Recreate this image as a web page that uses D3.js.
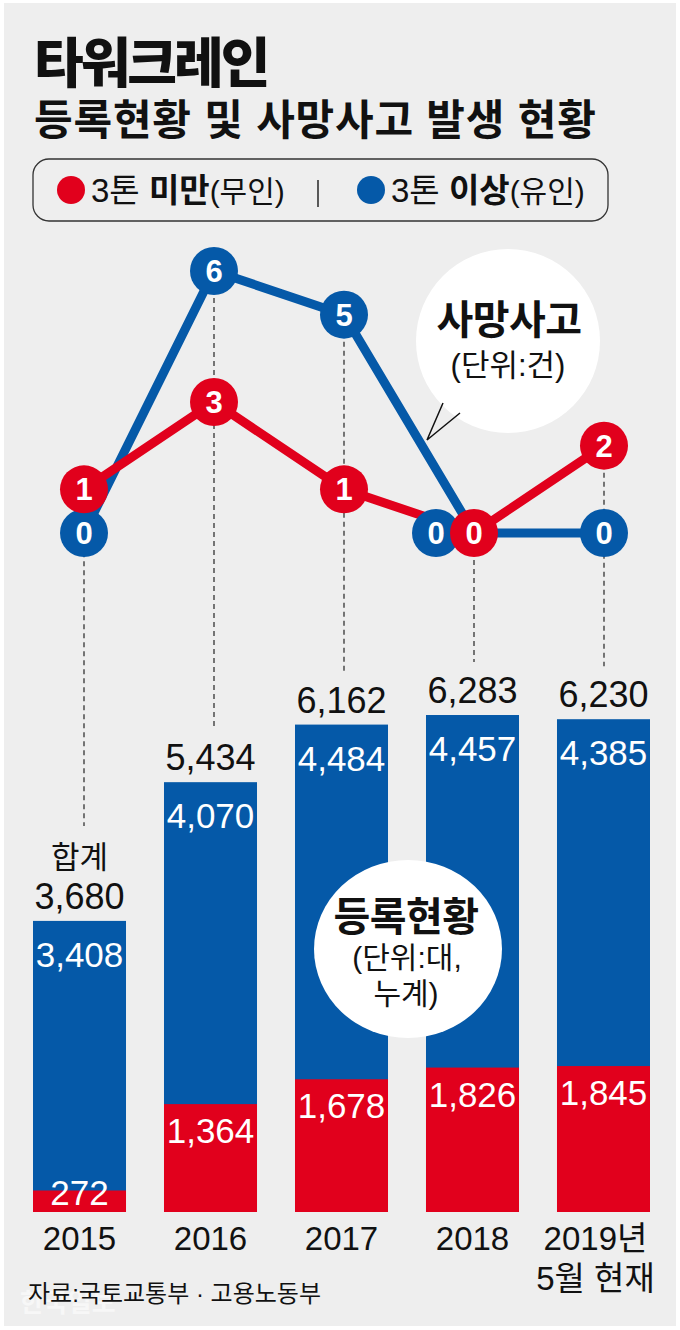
<!DOCTYPE html>
<html><head><meta charset="utf-8">
<script src="https://cdn.jsdelivr.net/npm/d3@7"></script>
<style>
html,body{margin:0;padding:0;background:#fff;}
svg{display:block;}
text{font-family:"Liberation Sans","Noto Sans CJK KR",Arial,sans-serif;}
.kr{font-family:"Noto Sans CJK KR","Liberation Sans",sans-serif;}
</style></head>
<body>
<svg id="c" width="680" height="1330"></svg>
<script>
const years = ["2015","2016","2017","2018","2019"];
const yearLabels = [["2015"],["2016"],["2017"],["2018"],["2019년","5월 현재"]];
const unmanned = [272, 1364, 1678, 1826, 1845];     // 3톤 미만(무인)
const manned = [3408, 4070, 4484, 4457, 4385];      // 3톤 이상(유인)
const totals = [3680, 5434, 6162, 6283, 6230];      // 합계
const deathsUnder3 = [1, 3, 1, 0, 2];               // 사망사고 3톤 미만
const deathsOver3 = [0, 6, 5, 0, 0];                // 사망사고 3톤 이상

const RED = "#e1001c", BLUE = "#0559a8", BG = "#eeeeee";
const svg = d3.select("#c");
const fmt = d3.format(",");

svg.append("rect").attr("x",4).attr("y",3).attr("width",672).attr("height",1323).attr("fill",BG);

// Title
svg.append("text").attr("x",34).attr("y",83)
  .attr("font-size",54).attr("font-weight",900).attr("letter-spacing",-3).attr("fill","#111")
  .text("타워크레인");
svg.append("text").attr("x",34).attr("y",135)
  .attr("font-size",42).attr("font-weight",700).attr("letter-spacing",0.8).attr("fill","#111")
  .text("등록현황 및 사망사고 발생 현황");

// Legend
svg.append("rect").attr("x",33).attr("y",159).attr("width",575).attr("height",62).attr("rx",16)
  .attr("fill",BG).attr("stroke","#333").attr("stroke-width",1.3);
const legend = [
  {c:RED, x:71, a:"3톤 ", b:"미만", d:"(무인)"},
  {c:BLUE, x:371, a:"3톤 ", b:"이상", d:"(유인)"}
];
legend.forEach(l=>{
  svg.append("circle").attr("cx",l.x).attr("cy",190).attr("r",14).attr("fill",l.c);
  const t = svg.append("text").attr("x",l.x+20).attr("y",202).attr("fill","#111");
  t.append("tspan").attr("font-size",33).text(l.a);
  t.append("tspan").attr("font-size",33).attr("font-weight",700).text(l.b);
  t.append("tspan").attr("font-size",30).text(l.d);
});
svg.append("line").attr("x1",318).attr("x2",318).attr("y1",180).attr("y2",207).attr("stroke","#333").attr("stroke-width",1.6);

// Bar scales
const xb = d3.scaleBand().domain(years).range([33,650]).paddingInner(0.29).paddingOuter(0);
const yb = d3.scaleLinear().domain([0,7000]).range([1212, 1212-7000*0.0791]);
const bw = xb.bandwidth();

// Line scales
const xp = d3.scalePoint().domain(years).range([84,604]);
const yp = d3.scaleLinear().domain([0,6]).range([533,271]);

// dashed guides
const dashEnd = years.map((y,i)=> i===0 ? 826 : yb(totals[i]) - 53);
const dashStart = years.map((y,i)=> yp(Math.max(deathsUnder3[i], deathsOver3[i])));
svg.append("g").selectAll("line").data(years).join("line")
  .attr("x1",d=>xp(d)).attr("x2",d=>xp(d))
  .attr("y1",(d,i)=>dashStart[i]).attr("y2",(d,i)=>dashEnd[i])
  .attr("stroke","#333").attr("stroke-width",1.3).attr("stroke-dasharray","5,4");

// Bars
const gb = svg.append("g");
gb.selectAll("rect.m").data(years).join("rect").attr("class","m")
  .attr("x",d=>xb(d)).attr("width",bw)
  .attr("y",(d,i)=>yb(totals[i])).attr("height",(d,i)=>yb(0)-yb(totals[i]))
  .attr("fill",BLUE);
gb.selectAll("rect.u").data(years).join("rect").attr("class","u")
  .attr("x",d=>xb(d)).attr("width",bw)
  .attr("y",(d,i)=>yb(unmanned[i])).attr("height",(d,i)=>yb(0)-yb(unmanned[i]))
  .attr("fill",RED);

// total labels
gb.selectAll("text.t").data(years).join("text").attr("class","t")
  .attr("x",d=>xb(d)+bw/2).attr("y",(d,i)=>yb(totals[i])-12)
  .attr("text-anchor","middle").attr("font-size",36).attr("fill","#111")
  .text((d,i)=>fmt(totals[i]));
svg.append("text").attr("x",xb("2015")+bw/2).attr("y",868).attr("text-anchor","middle")
  .attr("font-size",31).attr("fill","#111").text("합계");
// manned labels
gb.selectAll("text.mv").data(years).join("text").attr("class","mv")
  .attr("x",d=>xb(d)+bw/2).attr("y",(d,i)=>yb(totals[i])+46)
  .attr("text-anchor","middle").attr("font-size",35).attr("fill","#fff")
  .text((d,i)=>fmt(manned[i]));
// unmanned labels
gb.selectAll("text.uv").data(years).join("text").attr("class","uv")
  .attr("x",d=>xb(d)+bw/2).attr("y",(d,i)=>Math.min(yb(unmanned[i])+39, yb(0)-7))
  .attr("text-anchor","middle").attr("font-size",35).attr("fill","#fff")
  .text((d,i)=>fmt(unmanned[i]));
// year labels
yearLabels.forEach((lines,i)=>{
  lines.forEach((s,j)=>{
    svg.append("text").attr("x",xb(years[i])+bw/2 - (i===4?8:0)).attr("y",1250+j*40)
      .attr("text-anchor","middle").attr("font-size",33).attr("fill","#111").text(s);
  });
});

// 등록현황 bubble
svg.append("ellipse").attr("cx",408).attr("cy",949).attr("rx",94).attr("ry",89).attr("fill","#fff");
svg.append("text").attr("class","kr").attr("x",406).attr("y",931).attr("text-anchor","middle")
  .attr("font-size",40).attr("font-weight",700).attr("letter-spacing",-0.5).attr("fill","#111").text("등록현황");
svg.append("text").attr("x",407).attr("y",968).attr("text-anchor","middle")
  .attr("font-size",30).attr("fill","#111").text("(단위:대,");
svg.append("text").attr("x",406).attr("y",1004).attr("text-anchor","middle")
  .attr("font-size",30).attr("fill","#111").text("누계)");

// Lines
const line = d3.line().x(d=>xp(d.y)).y(d=>yp(d.v));
const blueData = years.map((y,i)=>({y, v:deathsOver3[i]}));
const redData = years.map((y,i)=>({y, v:deathsUnder3[i]}));
svg.append("path").attr("d",line(blueData)).attr("fill","none").attr("stroke",BLUE).attr("stroke-width",9).attr("stroke-linejoin","round");
svg.append("path").attr("d",line(redData)).attr("fill","none").attr("stroke",RED).attr("stroke-width",9).attr("stroke-linejoin","round");

// markers (blue marker shifted left where both series are 0 in the same year)
function markers(data, color, shiftFn){
  const g = svg.append("g");
  data.forEach((d,i)=>{
    const cx = xp(d.y) + shiftFn(i), cy = yp(d.v);
    g.append("circle").attr("cx",cx).attr("cy",cy).attr("r",24).attr("fill",color);
    g.append("text").attr("x",cx).attr("y",cy+11).attr("text-anchor","middle")
      .attr("font-size",31).attr("font-weight",700).attr("fill","#fff").text(d.v);
  });
}
markers(blueData, BLUE, i=> (deathsOver3[i]===deathsUnder3[i]) ? -38 : 0);
markers(redData, RED, i=>0);

// 사망사고 speech bubble
svg.append("circle").attr("cx",508).attr("cy",341).attr("r",92).attr("fill","#fff");
svg.append("path").attr("d","M443,403 L427,440 L460,413").attr("fill","none").attr("stroke","#111").attr("stroke-width",1.5);
svg.append("text").attr("class","kr").attr("x",509).attr("y",334).attr("text-anchor","middle")
  .attr("font-size",40).attr("font-weight",700).attr("letter-spacing",-0.5).attr("fill","#111").text("사망사고");
svg.append("text").attr("x",508).attr("y",376).attr("text-anchor","middle")
  .attr("font-size",31).attr("fill","#111").text("(단위:건)");

// source
svg.append("text").attr("class","kr").attr("x",20).attr("y",1312).attr("font-size",26).attr("font-weight",700)
  .attr("fill","#fff").attr("fill-opacity",0.55).text("한국일보");
svg.append("text").attr("x",28).attr("y",1302).attr("font-size",24).attr("fill","#111")
  .text("자료:국토교통부 · 고용노동부");
</script>
</body></html>
